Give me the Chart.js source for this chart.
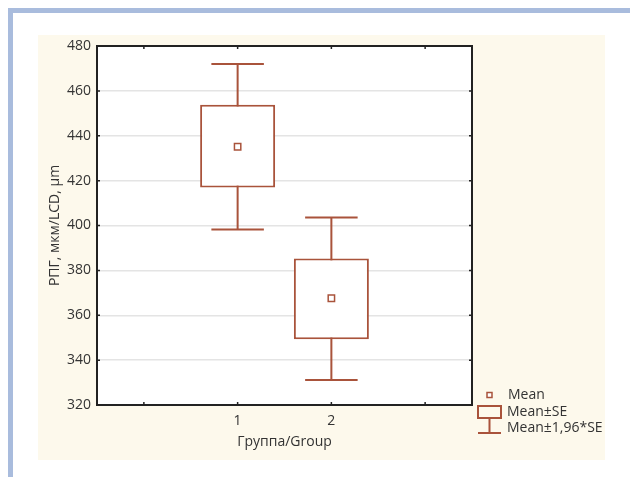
<!DOCTYPE html>
<html lang="ru">
<head>
  <meta charset="UTF-8">
  <title>РПГ по группам</title>
  <script src="https://cdn.jsdelivr.net/npm/chart.js"></script>
  <style>
    body {
      margin: 0;
      background: #fff;
      font-family: 'Open Sans', sans-serif;
    }
    .frame {
      position: absolute;
      left: 8px;
      top: 8px;
      width: 622px;
      height: 469px;
      border-left: 5px solid #a9bcdd;
      border-top: 5px solid #a9bcdd;
      box-sizing: border-box;
    }
    .panel {
      position: absolute;
      left: 38px;
      top: 35px;
      width: 567px;
      height: 425px;
      background: #fdf9ec;
    }
    #chart {
      position: absolute;
      left: 0;
      top: 0;
    }
  </style>
</head>
<body>

<div class="frame"></div>
<div class="panel"></div>
<canvas id="chart" width="630" height="477"></canvas>

<script>
// groups and statistics
const groups = ['1', '2'];
const means = [435.1, 367.6];
const seLow = [416.9, 349.3];
const seHigh = [453.8, 385.3];
const ciLow = [398.2, 331.1];
const ciHigh = [472.0, 403.6];
const yTicks = [320, 340, 360, 380, 400, 420, 440, 460, 480];

const brown = '#a9533b';
const textColor = '#333';

// one empty slot on each side, like the original axis
const labels = [''].concat(groups, ['']);
const pad = v => [null].concat(v, [null]);

// white plot area on the cream panel
const plotBg = {
  id: 'plotBg',
  beforeDraw(chart) {
    const a = chart.chartArea;
    chart.ctx.save();
    chart.ctx.fillStyle = '#fff';
    chart.ctx.fillRect(a.left, a.top, a.right - a.left, a.bottom - a.top);
    chart.ctx.restore();
  }
};

// whiskers (Mean ± 1.96*SE), drawn under the boxes
const whiskers = {
  id: 'whiskers',
  beforeDatasetsDraw(chart) {
    const ctx = chart.ctx;
    const x = chart.scales.x, y = chart.scales.y;
    const capHalf = (x.getPixelForValue(1) - x.getPixelForValue(0)) * 0.28;
    ctx.save();
    ctx.strokeStyle = brown;
    ctx.lineWidth = 2;
    groups.forEach((g, i) => {
      const cx = x.getPixelForValue(i + 1);
      const top = y.getPixelForValue(ciHigh[i]);
      const bot = y.getPixelForValue(ciLow[i]);
      ctx.beginPath();
      ctx.moveTo(cx, top);
      ctx.lineTo(cx, bot);
      ctx.moveTo(cx - capHalf, top);
      ctx.lineTo(cx + capHalf, top);
      ctx.moveTo(cx - capHalf, bot);
      ctx.lineTo(cx + capHalf, bot);
      ctx.stroke();
    });
    ctx.restore();
  }
};

// plot frame, inner tick marks and the legend
const frame = {
  id: 'frame',
  afterDraw(chart) {
    const ctx = chart.ctx;
    const a = chart.chartArea;
    const x = chart.scales.x, y = chart.scales.y;
    ctx.save();
    ctx.strokeStyle = '#222';
    ctx.lineWidth = 2;
    ctx.strokeRect(a.left, a.top, a.right - a.left, a.bottom - a.top);

    ctx.lineWidth = 1.5;
    ctx.beginPath();
    yTicks.forEach(v => {
      const py = y.getPixelForValue(v);
      ctx.moveTo(a.left, py);
      ctx.lineTo(a.left + 3, py);
      ctx.moveTo(a.right, py);
      ctx.lineTo(a.right - 3, py);
    });
    labels.forEach((l, i) => {
      const px = x.getPixelForValue(i);
      ctx.moveTo(px, a.bottom);
      ctx.lineTo(px, a.bottom - 3);
      ctx.moveTo(px, a.top);
      ctx.lineTo(px, a.top + 3);
    });
    ctx.stroke();

    // legend
    const lx = a.right + 6;
    const ly = a.bottom - 10;
    ctx.strokeStyle = brown;
    ctx.lineWidth = 1.5;
    ctx.fillStyle = '#fff';
    ctx.fillRect(lx + 9, ly - 2.5, 5, 5);
    ctx.strokeRect(lx + 9, ly - 2.5, 5, 5);
    ctx.lineWidth = 2;
    ctx.strokeRect(lx, ly + 11, 23, 12);
    ctx.beginPath();
    ctx.moveTo(lx + 11.5, ly + 23);
    ctx.lineTo(lx + 11.5, ly + 38);
    ctx.moveTo(lx, ly + 38);
    ctx.lineTo(lx + 23, ly + 38);
    ctx.stroke();

    ctx.fillStyle = textColor;
    ctx.font = "14px 'Open Sans'";
    ctx.textBaseline = 'middle';
    ctx.textAlign = 'left';
    ctx.fillText('Mean', lx + 30, ly);
    ctx.fillText('Mean±SE', lx + 29, ly + 17);
    ctx.fillText('Mean±1,96*SE', lx + 29, ly + 33);
    ctx.restore();
  }
};

new Chart(document.getElementById('chart'), {
  type: 'bar',
  data: {
    labels: labels,
    datasets: [
      {
        type: 'line',
        label: 'Mean',
        data: pad(means),
        showLine: false,
        pointStyle: 'rect',
        pointRadius: 4.5,
        pointBorderWidth: 1.5,
        pointBorderColor: brown,
        pointBackgroundColor: '#fff',
        order: 0
      },
      {
        label: 'Mean±SE',
        data: pad(groups.map((g, i) => [seLow[i], seHigh[i]])),
        backgroundColor: '#fff',
        borderColor: brown,
        borderWidth: 2,
        borderSkipped: false,
        barPercentage: 0.8,
        categoryPercentage: 1,
        order: 1
      }
    ]
  },
  options: {
    responsive: false,
    devicePixelRatio: 1,
    animation: false,
    layout: {
      padding: { left: 38, top: 46, right: 158, bottom: 0 }
    },
    plugins: {
      legend: { display: false },
      tooltip: { enabled: false }
    },
    scales: {
      x: {
        type: 'category',
        offset: true,
        grid: { display: false, drawTicks: false },
        border: { display: false },
        ticks: {
          padding: 8,
          color: textColor,
          font: { family: 'Open Sans', size: 14 }
        },
        title: {
          display: true,
          text: 'Группа/Group',
          color: textColor,
          font: { family: 'Open Sans', size: 14 },
          padding: { top: 0, bottom: 27 }
        },
        afterFit(scale) { scale.height = 72; }
      },
      y: {
        min: 320,
        max: 480,
        afterBuildTicks(scale) { scale.ticks = yTicks.map(v => ({ value: v })); },
        grid: { color: '#e4e4e4', lineWidth: 1.5, drawTicks: false },
        border: { display: false },
        ticks: {
          padding: 6,
          color: textColor,
          font: { family: 'Open Sans', size: 14 }
        },
        title: {
          display: true,
          text: 'РПГ, мкм/LCD, μm',
          color: textColor,
          font: { family: 'Open Sans', size: 14 },
          padding: { top: 9, bottom: 0 }
        },
        afterFit(scale) { scale.width = 59; }
      }
    }
  },
  plugins: [plotBg, whiskers, frame]
});
</script>

</body>
</html>
